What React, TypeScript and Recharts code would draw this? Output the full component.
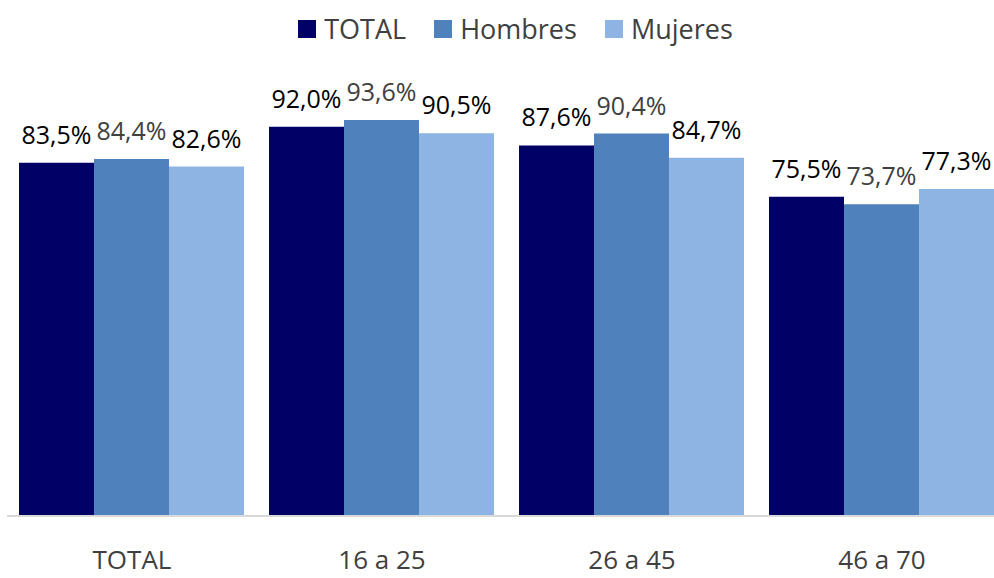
import React from 'react';
import { BarChart, Bar, XAxis, YAxis, Legend, LabelList } from 'recharts';

const categories = ['TOTAL', '16 a 25', '26 a 45', '46 a 70'];
const totalValues = [83.5, 92.0, 87.6, 75.5];
const hombresValues = [84.4, 93.6, 90.4, 73.7];
const mujeresValues = [82.6, 90.5, 84.7, 77.3];

const series = [
  { key: 'TOTAL', color: '#000066', labelColor: '#000000' },
  { key: 'Hombres', color: '#4F81BD', labelColor: '#404040' },
  { key: 'Mujeres', color: '#8EB4E3', labelColor: '#000000' },
];

const data = categories.map((name, i) => ({
  name,
  TOTAL: totalValues[i],
  Hombres: hombresValues[i],
  Mujeres: mujeresValues[i],
}));

const FONT = "'Open Sans', sans-serif";

const fmt = (v: any) => Number(v).toFixed(1).replace('.', ',') + '%';

// category labels sit near the bottom edge, like the reference
const CategoryTick = (props: any) => {
  const { x, payload } = props;
  return (
    <text x={x} y={569} textAnchor="middle" fill="#404040" fontSize={26} fontFamily={FONT}>
      {payload.value}
    </text>
  );
};

const LegendContent = () => (
  <div style={{ display: 'flex', justifyContent: 'center', alignItems: 'center', fontFamily: FONT, fontSize: 27, color: '#404040' }}>
    {series.map((s, i) => (
      <div key={s.key} style={{ display: 'flex', alignItems: 'center', marginLeft: i === 0 ? 0 : 28 }}>
        <span style={{ width: 18, height: 18, background: s.color, marginRight: 8, display: 'inline-block' }} />
        <span style={{ lineHeight: '30px' }}>{s.key}</span>
      </div>
    ))}
  </div>
);

export default function App() {
  return (
    <div style={{ position: 'absolute', left: 0, top: 0, width: 994, height: 578, overflow: 'hidden', background: '#fff' }}>
      <BarChart
        width={1020}
        height={578}
        data={data}
        margin={{ top: 93, right: 13, bottom: 0, left: 7 }}
        barCategoryGap={12}
        barGap={0}
      >
        <XAxis
          dataKey="name"
          height={62}
          axisLine={{ stroke: '#D9D9D9', strokeWidth: 2 }}
          tickLine={false}
          tick={<CategoryTick />}
          interval={0}
        />
        <YAxis hide domain={[0, 100]} />
        <Legend verticalAlign="middle" content={<LegendContent />} wrapperStyle={{ top: 14, left: 0, width: 1031 }} />
        {series.map((s) => (
          <Bar key={s.key} dataKey={s.key} fill={s.color} isAnimationActive={false}>
            <LabelList
              dataKey={s.key}
              position="top"
              offset={19}
              formatter={fmt}
              fill={s.labelColor}
              fontSize={25}
              fontFamily={FONT}
            />
          </Bar>
        ))}
      </BarChart>
    </div>
  );
}
